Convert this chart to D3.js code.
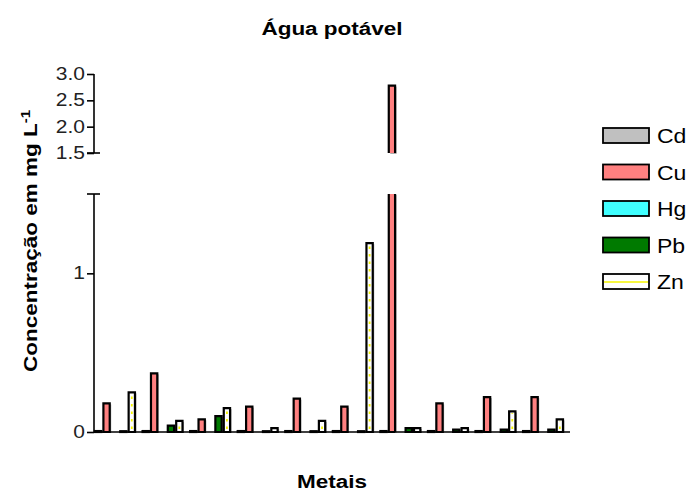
<!DOCTYPE html>
<html>
<head>
<meta charset="utf-8">
<script src="https://cdn.jsdelivr.net/npm/d3@7"></script>
<style>
  body { margin: 0; background: white; }
  text { font-family: "Liberation Sans", Arial, sans-serif; }
</style>
</head>
<body>
<div id="chart"></div>
<script>
// Data
const groups = ["1", "2", "3", "4", "5", "6", "7", "8", "9", "10"];
const metals = ["Cd", "Cu", "Hg", "Pb", "Zn"];
const cd = [0.006, 0.006, 0.006, 0.006, 0.006, 0.006, 0.006, 0.006, 0.006, 0.006];
const cu = [0.18, 0.37, 0.08, 0.16, 0.21, 0.16, 2.78, 0.18, 0.22, 0.22];
const hg = [0, 0, 0, 0, 0, 0, 0, 0, 0, 0];
const pb = [0.005, 0.04, 0.10, 0.005, 0.005, 0.005, 0.025, 0.015, 0.015, 0.015];
const zn = [0.25, 0.07, 0.15, 0.025, 0.07, 1.19, 0.025, 0.025, 0.13, 0.08];
const lowTicks = [0, 1];
const highTicks = [1.5, 2.0, 2.5, 3.0];

const colors = {Cd: "#c0c0c0", Cu: "#ff8080", Hg: "#40ffff", Pb: "#007a00", Zn: "#ffffff"};
const series = {Cd: cd, Cu: cu, Hg: hg, Pb: pb, Zn: zn};

const w = 691, h = 495;
const axisX = 94, axisEnd = 570;
const breakVal = 1.5;
const sx = 1.25; // the original text is drawn wider than normal

const svg = d3.select("#chart").append("svg")
  .attr("width", w).attr("height", h)
  .style("background-color", "white");

// scales: broken y axis
const yLow = d3.scaleLinear().domain([0, breakVal]).range([432, 194]);
const yHigh = d3.scaleLinear().domain([breakVal, 3.0]).range([153, 74]);

const x0 = d3.scaleBand().domain(groups).range([95, 563]).paddingInner(0.16).paddingOuter(0).align(0);
const x1 = d3.scaleBand().domain(metals).range([0, x0.bandwidth()]).paddingInner(0.25).paddingOuter(0);

// flatten bar data
const bars = [];
groups.forEach((g, i) => {
  metals.forEach(m => bars.push({g: g, m: m, v: series[m][i]}));
});

const barG = svg.append("g");

// yb = bottom pixel, yt = top pixel; open edges get no outline (axis break)
function drawPart(d, yb, yt, openBottom, openTop) {
  const x = x0(d.g) + x1(d.m);
  const bw = x1.bandwidth();
  const hh = yb - yt;
  barG.append("rect").attr("x", x + 1.5).attr("y", yt + 1).attr("width", bw).attr("height", hh)
    .attr("fill", "#aaa");
  barG.append("rect").attr("x", x).attr("y", yt).attr("width", bw).attr("height", hh)
    .attr("fill", colors[d.m]);
  if (d.m === "Zn" && hh > 4) {
    barG.append("line")
      .attr("x1", x + bw / 2).attr("x2", x + bw / 2)
      .attr("y1", yb - 3).attr("y2", yt + 2)
      .attr("stroke", "#f5f500").attr("stroke-width", 1.8)
      .attr("stroke-dasharray", "2.5,5");
  }
  const p = d3.path();
  if (openBottom) { p.moveTo(x, yb); } else { p.moveTo(x + bw, yb); p.lineTo(x, yb); }
  p.lineTo(x, yt);
  if (openTop) { p.moveTo(x + bw, yt); } else { p.lineTo(x + bw, yt); }
  p.lineTo(x + bw, yb);
  if (!openBottom) p.closePath();
  barG.append("path").attr("d", p.toString()).attr("fill", "none")
    .attr("stroke", "black").attr("stroke-width", 2.2).attr("stroke-linejoin", "miter");
}

bars.forEach(d => {
  if (d.v <= 0) return;
  if (d.v <= breakVal) {
    drawPart(d, yLow(0), yLow(d.v), false, false);
  } else {
    drawPart(d, yLow(0), yLow(breakVal), false, true);
    drawPart(d, yHigh(breakVal), yHigh(d.v), true, false);
  }
});

// axes
const lowAxis = d3.axisLeft(yLow).tickValues(lowTicks).tickFormat(d3.format("d")).tickSize(7).tickSizeOuter(0);
const gLow = svg.append("g").attr("transform", "translate(" + axisX + ",0)").call(lowAxis);
gLow.select(".domain").attr("d", "M0," + yLow(0) + "V" + yLow(breakVal)).attr("stroke-width", 1.6);
gLow.append("line").attr("x1", -7).attr("x2", 6).attr("y1", yLow(breakVal)).attr("y2", yLow(breakVal))
  .attr("stroke", "black").attr("stroke-width", 1.6);

const highAxis = d3.axisLeft(yHigh).tickValues(highTicks).tickFormat(d3.format(".1f")).tickSize(7).tickSizeOuter(0);
const gHigh = svg.append("g").attr("transform", "translate(" + axisX + ",0)").call(highAxis);
gHigh.select(".domain").attr("d", "M0," + yHigh(breakVal) + "V" + yHigh(3.0)).attr("stroke-width", 1.6);
gHigh.append("line").attr("x1", -7).attr("x2", 6).attr("y1", yHigh(breakVal)).attr("y2", yHigh(breakVal))
  .attr("stroke", "black").attr("stroke-width", 1.6);

[gLow, gHigh].forEach(g => {
  g.selectAll(".tick line").attr("stroke-width", 1.6);
  g.selectAll(".tick text").attr("x", -9 / 1.2).attr("transform", "scale(1.2,1)")
    .style("font-size", "17.5px").style("font-family", "Liberation Sans, Arial, sans-serif")
    .attr("fill", "#222");
});

// x axis baseline
svg.append("line").attr("x1", axisX).attr("x2", axisEnd).attr("y1", yLow(0)).attr("y2", yLow(0))
  .attr("stroke", "black").attr("stroke-width", 1.6);

// titles
svg.append("text").attr("transform", "translate(332,35) scale(" + sx + ",1)").attr("text-anchor", "middle")
  .style("font-size", "18px").style("font-weight", "bold").text("Água potável");
svg.append("text").attr("transform", "translate(332,488) scale(" + sx + ",1)").attr("text-anchor", "middle")
  .style("font-size", "18px").style("font-weight", "bold").text("Metais");

const yl = svg.append("text")
  .attr("transform", "translate(37,241) rotate(-90) scale(" + sx + ",1)")
  .attr("text-anchor", "middle")
  .style("font-size", "18px").style("font-weight", "bold");
yl.append("tspan").text("Concentração em mg L");
yl.append("tspan").attr("dy", -7).style("font-size", "12px").text("-1");

// legend
const legend = svg.append("g").selectAll("g").data(metals).enter().append("g")
  .attr("transform", (d, i) => "translate(603," + (128 + i * 36.5) + ")");
legend.append("rect").attr("width", 46).attr("height", 15)
  .attr("fill", d => colors[d]).attr("stroke", "black").attr("stroke-width", 1.8);
legend.filter(d => d === "Zn").append("line")
  .attr("x1", 1).attr("x2", 45).attr("y1", 8).attr("y2", 8)
  .attr("stroke", "#f5f500").attr("stroke-width", 1.5);
legend.append("text").attr("transform", "translate(54,15) scale(1.15,1)")
  .style("font-size", "20px").text(d => d);
</script>
</body>
</html>
